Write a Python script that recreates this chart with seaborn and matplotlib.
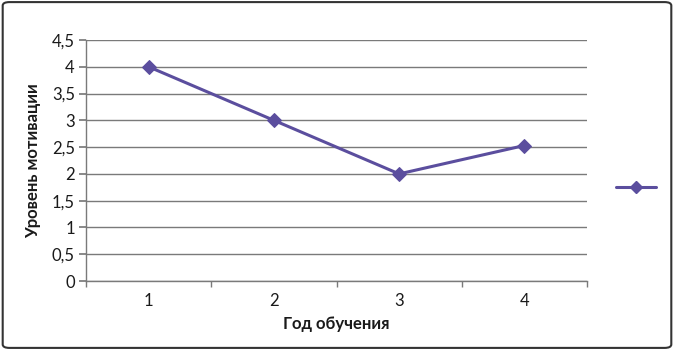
import matplotlib
matplotlib.use("Agg")
import matplotlib.pyplot as plt
import seaborn as sns
import pandas as pd
from matplotlib.lines import Line2D
from matplotlib.patches import FancyBboxPatch
from matplotlib.ticker import FixedLocator, FuncFormatter

years = ["1", "2", "3", "4"]
motivation = [4.0, 3.0, 2.0, 2.53]
y_ticks = [0, 0.5, 1, 1.5, 2, 2.5, 3, 3.5, 4, 4.5]

sns.set_theme(style="white")
plt.rcParams['font.family'] = ['Lato', 'DejaVu Sans']

color = "#5B4E9E"
df = pd.DataFrame({"year": years, "value": motivation})

fig = plt.figure(figsize=(6.74, 3.5), dpi=100)
ax = fig.add_axes([86/674, 1-281/350, (587-86)/674, (281-40)/350])

sns.lineplot(data=df, x="year", y="value", ax=ax, color=color, marker="D",
             markersize=7, linewidth=2.2, markeredgecolor=color, sort=False)

ax.set_xlim(-0.5, 3.5)
ax.set_ylim(0, 4.5)
ax.yaxis.set_major_locator(FixedLocator(y_ticks))
ax.yaxis.set_major_formatter(FuncFormatter(lambda v, p: (f"{v:g}").replace(".", ",")))
ax.grid(axis="y", color="#7a7a7a", linewidth=1)
ax.set_axisbelow(True)
for s in ["top", "right"]:
    ax.spines[s].set_visible(False)
for s in ["left", "bottom"]:
    ax.spines[s].set_color("#7a7a7a")
    ax.spines[s].set_linewidth(1)

ax.xaxis.set_minor_locator(FixedLocator([-0.5, 0.5, 1.5, 2.5, 3.5]))
ax.tick_params(axis="x", which="major", length=0, labelsize=12, colors="#1a1a1a", pad=9)
ax.tick_params(axis="x", which="minor", length=4, color="#7a7a7a", direction="out", bottom=True)
ax.tick_params(axis="y", which="major", length=5, color="#7a7a7a", direction="out", left=True,
               labelsize=12, labelcolor="#1a1a1a", pad=3)

ax.set_xlabel("Год обучения", fontsize=12, fontweight="bold", color="#1a1a1a", labelpad=5)
ax.set_ylabel("Уровень мотивации", fontsize=12, fontweight="bold", color="#1a1a1a", labelpad=8)

handle = Line2D([], [], color=color, marker="D", markersize=6, linewidth=2.2)
fig.legend(handles=[handle], labels=[""], loc="center", bbox_to_anchor=(636/674, 1-188/350),
           frameon=False, handlelength=2.6, handletextpad=0)

border = FancyBboxPatch((0.004, 0.006), 0.992, 0.988, boxstyle="round,pad=0,rounding_size=0.01",
                        transform=fig.transFigure, fill=False, edgecolor="#333333", linewidth=1.5)
fig.patches.append(border)

fig.savefig("out.png", dpi=100)
